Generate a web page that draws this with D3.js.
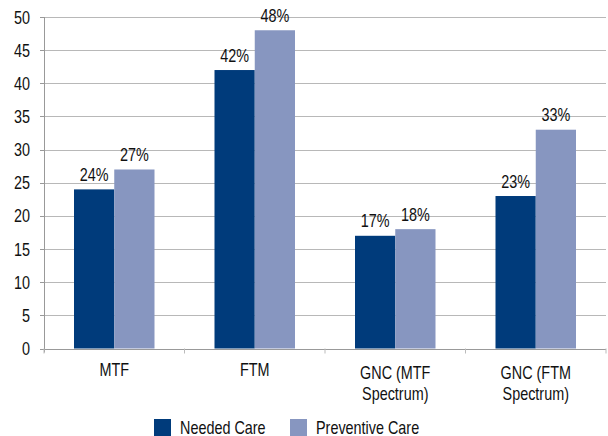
<!DOCTYPE html>
<html><head><meta charset="utf-8">
<script src="https://cdn.jsdelivr.net/npm/d3@7"></script>
<style>
body{margin:0;background:#fff;}
text{font-family:"Liberation Sans",Arial,sans-serif;fill:#111;}
</style></head><body>
<svg id="c" width="608" height="436"></svg>
<script>
const categories = [["MTF"],["FTM"],["GNC (MTF","Spectrum)"],["GNC (FTM","Spectrum)"]];
const seriesNames = ["Needed Care","Preventive Care"];
const neededCare = [24,42,17,23];
const preventiveCare = [27,48,18,33];
const yTicks = [0,5,10,15,20,25,30,35,40,45,50];
const colors = ["#003b7b","#8796c0"];

const svg = d3.select("#c");
const L=44, R=606, T=17, B=348.5;
const FS=18, SX=0.8;
const x = d3.scaleBand().domain(d3.range(categories.length)).range([L,R]).paddingInner(0).paddingOuter(0);
const xs = d3.scaleBand().domain([0,1]).range([30, x.bandwidth()-30]);
const y = d3.scaleLinear().domain([0,50]).range([B,T]);

function txt(px,py,s,anchor){
  svg.append("g").attr("transform",`translate(${px},${py}) scale(${SX},1)`)
    .append("text").attr("text-anchor",anchor||"start").attr("font-size",FS).text(s);
}

// gridlines
svg.append("g").selectAll("line").data(yTicks.filter(d=>d>0)).join("line")
  .attr("x1",L-4).attr("x2",R).attr("y1",d=>Math.round(y(d))+0.5).attr("y2",d=>Math.round(y(d))+0.5)
  .attr("stroke","#b8b8b8").attr("stroke-width",1);

const series=[neededCare,preventiveCare];
series.forEach((vals,si)=>{
  svg.append("g").selectAll("rect").data(vals).join("rect")
    .attr("x",(d,i)=>x(i)+xs(si)).attr("width",xs.bandwidth())
    .attr("y",d=>y(d)).attr("height",d=>B-y(d)).attr("fill",colors[si]);
  vals.forEach((d,i)=>txt(x(i)+xs(si)+xs.bandwidth()/2, y(d)-8.5, d+"%", "middle"));
});

// y axis
svg.append("line").attr("x1",L+0.5).attr("x2",L+0.5).attr("y1",T).attr("y2",B+4).attr("stroke","#999");
svg.append("g").selectAll("line").data(yTicks).join("line")
  .attr("x1",L-4).attr("x2",L).attr("y1",d=>Math.round(y(d))+0.5).attr("y2",d=>Math.round(y(d))+0.5).attr("stroke","#999");
yTicks.forEach(d=>txt(L-14, y(d)+6.5, String(d), "end"));

// x axis
svg.append("line").attr("x1",L-4).attr("x2",R).attr("y1",Math.round(B)+0.5).attr("y2",Math.round(B)+0.5).attr("stroke","#999");
svg.append("g").selectAll("line").data(d3.range(categories.length+1)).join("line")
  .attr("x1",i=>L+i*x.bandwidth()).attr("x2",i=>L+i*x.bandwidth())
  .attr("y1",B).attr("y2",B+5).attr("stroke","#bbb");
categories.forEach((lines,i)=>{
  lines.forEach((ln,j)=>{
    txt(x(i)+x.bandwidth()/2, (lines.length===1?376:379)+j*20.5, ln, "middle");
  });
});

// legend
const lx=[154,290];
seriesNames.forEach((n,i)=>{
  svg.append("rect").attr("x",lx[i]).attr("y",419).attr("width",17).attr("height",17).attr("fill",colors[i]);
  txt(lx[i]+26, 434, n, "start");
});
</script></body></html>
